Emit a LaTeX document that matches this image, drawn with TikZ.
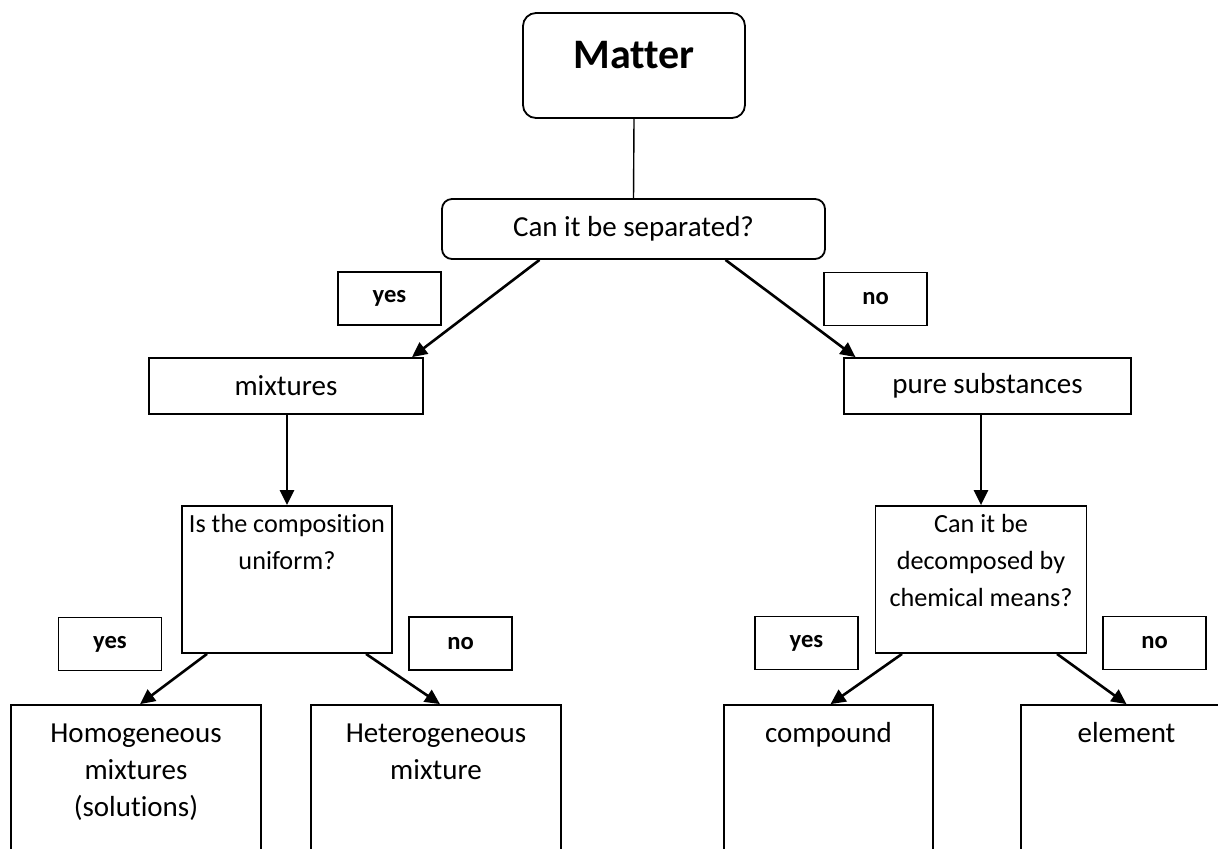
\documentclass[tikz,border=0pt]{standalone}
\usepackage{fontspec}
\setmainfont{Carlito}[Ligatures=NoCommon]
\usetikzlibrary{arrows.meta}
\newcommand{\toplines}[4]{\parbox[c][#2][t]{#1}{\centering\vspace*{#3}\strut #4}}
\tikzset{box/.style={draw, line width=0.9pt, inner sep=0pt, font=\fontsize{14.5}{18.5}\selectfont}}
\tikzset{roundbox/.style={box, rounded corners=5pt}}
\tikzset{askbox/.style={box, font=\fontsize{13.1}{18.5}\selectfont}}
\tikzset{tag/.style={box, minimum width=51.5pt, minimum height=26.5pt, font=\fontsize{12.3}{15}\selectfont\bfseries}}
\tikzset{arr/.style={-{Triangle[length=7.5pt,width=7pt]}, line width=1.3pt}}

\begin{document}
\begin{tikzpicture}[x=0.5pt, y=-0.5pt]
\clip (0,0) rectangle (1218,848);
\node[roundbox, rounded corners=6.5pt, font=\fontsize{21}{25}\selectfont\bfseries] (matter) at (634,65.5) {\toplines{111pt}{52.5pt}{10pt}{Matter}};
\node[roundbox, minimum width=191.5pt, minimum height=30pt] (sep) at (633.5,229) {Can it be separated?};
\node[box, minimum width=137pt, minimum height=28pt] (mix) at (286,386) {mixtures};
\node[box, minimum width=143.5pt, minimum height=28pt] (pure) at (987.5,386) {pure substances};
\node[askbox] (comp) at (287,579.5) {\toplines{105pt}{73.5pt}{0.5pt}{Is the composition\\ uniform?}};
\node[askbox] (dec) at (981,579.5) {\toplines{105.5pt}{73.5pt}{0.5pt}{Can it be\\ decomposed by\\ chemical means?}};
\node[box] (hom) at (136,785) {\toplines{125pt}{80pt}{5.8pt}{Homogeneous\\ mixtures\\ (solutions)}};
\node[box] (het) at (436,785) {\toplines{125pt}{80pt}{5.8pt}{Heterogeneous\\ mixture}};
\node[box] (cpd) at (828.5,785) {\toplines{104.5pt}{80pt}{5.8pt}{compound}};
\node[box] (elem) at (1126.5,785) {\toplines{105.5pt}{80pt}{5.8pt}{element}};
% yes / no labels
\node[tag] (yes1) at (389.5,298.5) {yes};
\node[tag] (no1) at (875.5,299) {no};
\node[tag] (yes2) at (110,644) {yes};
\node[tag] (no2) at (460.5,643.5) {no};
\node[tag] (yes3) at (806.5,643) {yes};
\node[tag] (no3) at (1154.5,643) {no};
% connectors
\draw[line width=0.7pt] (matter.south) -- (sep.north);
\draw[arr] ([xshift=-47pt]sep.south) -- ([xshift=63pt]mix.north);
\draw[arr] ([xshift=46pt]sep.south) -- ([xshift=-66pt]pure.north);
\draw[arr] (mix.south -| comp.north) -- (comp.north);
\draw[arr] (pure.south -| dec.north) -- (dec.north);
\draw[arr] ([xshift=-40pt]comp.south) -- ([xshift=2pt]hom.north);
\draw[arr] ([xshift=39.5pt]comp.south) -- ([xshift=2pt]het.north);
\draw[arr] ([xshift=-39.5pt]dec.south) -- ([xshift=1pt]cpd.north);
\draw[arr] ([xshift=38pt]dec.south) -- (elem.north);
\end{tikzpicture}
\end{document}
